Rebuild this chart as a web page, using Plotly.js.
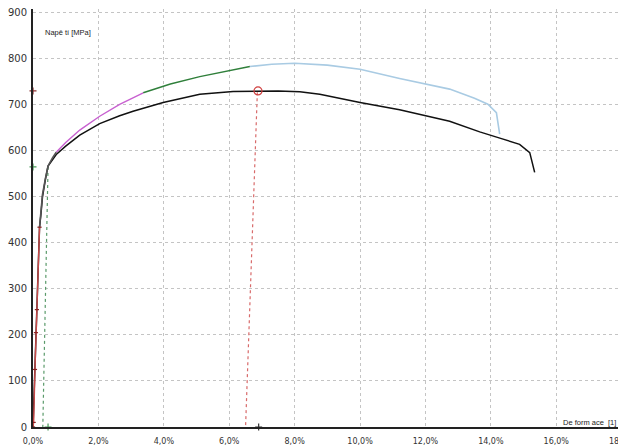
<!DOCTYPE html>
<html>
<head>
<meta charset="utf-8">
<script src="https://cdn.plot.ly/plotly-3.0.1.min.js"></script>
<style>
  html, body { margin: 0; padding: 0; overflow: hidden; background: #fff; }
  #chart { width: 640px; height: 447px; }
</style>
</head>
<body>
<div id="chart"></div>
<script>
// Tensile test: strain [%] vs. stress [MPa]

// Specimen 1 (black curve)
const strain1 = [0, 0.1, 0.2, 0.24, 0.29, 0.38, 0.46, 0.71, 1.0, 1.43, 2.04, 2.65, 3.06, 3.98, 5.1, 6.12, 6.88, 7.5, 8.16, 8.77, 10.0, 11.21, 12.74, 13.66, 14.3, 14.88, 15.19, 15.34];
const stress1 = [0, 217, 434, 460, 500, 538, 567, 592, 610, 634, 659, 676, 686, 705, 723, 729, 730, 730, 728, 723, 705, 689, 664, 641, 627, 614, 596, 553];

// Specimen 2, split into coloured stages
const elasticX = [0, 0.02, 0.06, 0.09, 0.12, 0.2];
const elasticY = [0, 10, 125, 205, 255, 434];
const yieldX = [0.2, 0.24, 0.29, 0.38, 0.46, 0.6, 0.71];
const yieldY = [434, 470, 505, 540, 567, 585, 597];
const hardenX = [0.71, 1.0, 1.43, 2.04, 2.65, 3.37];
const hardenY = [597, 618, 645, 675, 701, 726];
const uniformX = [3.37, 4.2, 5.1, 5.9, 6.63];
const uniformY = [726, 745, 761, 773, 783];
const neckX = [6.63, 7.3, 8.0, 9.0, 10.0, 11.21, 12.74, 13.5, 13.91, 14.17, 14.27];
const neckY = [783, 788, 790, 786, 777, 757, 734, 714, 701, 683, 636];

// Unloading lines
const offsetX = [0.46, 0.3];
const offsetY = [565, 0];
const unloadX = [6.86, 6.5];
const unloadY = [727, 0];

// Characteristic points
const rmX = [6.88];
const rmY = [730];
const axisMarkX = [0, 0, 0.46, 6.9];
const axisMarkY = [565, 730, 0, 0];
const axisMarkColor = ['#4a9a5a', '#8a3030', '#4a9a5a', '#333333'];

// Axis ticks
const xTicks = [0, 2, 4, 6, 8, 10, 12, 14, 16, 18];
const xTickText = ['0,0%', '2,0%', '4,0%', '6,0%', '8,0%', '10,0%', '12,0%', '14,0%', '16,0%', '18,0%'];
const yTicks = [0, 100, 200, 300, 400, 500, 600, 700, 800, 900];

const line = (x, y, color, width, dash) => ({
  x, y, type: 'scatter', mode: 'lines',
  line: { color, width, dash: dash || 'solid' },
  hoverinfo: 'skip', showlegend: false
});

const traces = [
  line(offsetX, offsetY, '#5a9a6a', 1.2, 'dot'),
  line(unloadX, unloadY, '#d86a6a', 1.2, 'dot'),
  line(strain1, stress1, '#111111', 1.5),
  line(neckX, neckY, '#a9cbe3', 1.6),
  line(uniformX, uniformY, '#2f7f3a', 1.4),
  line(hardenX, hardenY, '#c860d0', 1.4),
  line(yieldX, yieldY, '#555555', 1.6),
  Object.assign(line(elasticX, elasticY, '#c84848', 1.4), {
    mode: 'lines+markers',
    marker: { symbol: 'line-ew', size: 3, color: '#8a2020', line: { color: '#8a2020', width: 1.2 } }
  }),
  {
    x: rmX, y: rmY, type: 'scatter', mode: 'markers',
    marker: { symbol: 'circle-open', size: 8, color: '#d04040', line: { color: '#d04040', width: 1.2 } },
    hoverinfo: 'skip', showlegend: false
  },
  {
    x: axisMarkX, y: axisMarkY, type: 'scatter', mode: 'markers', cliponaxis: false,
    marker: { symbol: 'cross-thin-open', size: 5, color: axisMarkColor, line: { color: axisMarkColor, width: 1.2 } },
    hoverinfo: 'skip', showlegend: false
  }
];

const layout = {
  width: 640,
  height: 447,
  margin: { l: 33, r: 2, t: 9, b: 20 },
  paper_bgcolor: '#ffffff',
  plot_bgcolor: '#ffffff',
  font: { family: 'DejaVu Sans, sans-serif', size: 8, color: '#333333' },
  xaxis: {
    range: [0, 18.5],
    tickvals: xTicks,
    ticktext: xTickText,
    ticks: '',
    ticklabelstandoff: 5,
    showgrid: true,
    gridcolor: '#c4c4c4',
    griddash: '3px,3px',
    gridwidth: 1,
    zeroline: false,
    showline: true,
    linecolor: '#222222',
    linewidth: 2,
    tickfont: { size: 8, color: '#333333' }
  },
  yaxis: {
    range: [0, 908],
    tickvals: yTicks,
    ticks: '',
    ticklabelstandoff: 2,
    showgrid: true,
    gridcolor: '#c4c4c4',
    griddash: '3px,3px',
    gridwidth: 1,
    zeroline: false,
    showline: true,
    linecolor: '#222222',
    linewidth: 2,
    tickfont: { size: 10, color: '#333333' }
  },
  annotations: [
    {
      text: 'Napě tí [MPa]', xref: 'paper', yref: 'paper',
      x: 0.0165, y: 0.9426, xanchor: 'left', yanchor: 'middle',
      showarrow: false, font: { family: 'Liberation Sans, Arial, sans-serif', size: 7.5, color: '#222222' }
    },
    {
      text: 'De form ace  [1]', xref: 'paper', yref: 'paper',
      x: 0.873, y: 0.0096, xanchor: 'left', yanchor: 'middle',
      showarrow: false, font: { family: 'Liberation Sans, Arial, sans-serif', size: 7.5, color: '#222222' }
    }
  ]
};

Plotly.newPlot('chart', traces, layout, { displayModeBar: false, staticPlot: true });
</script>
</body>
</html>
